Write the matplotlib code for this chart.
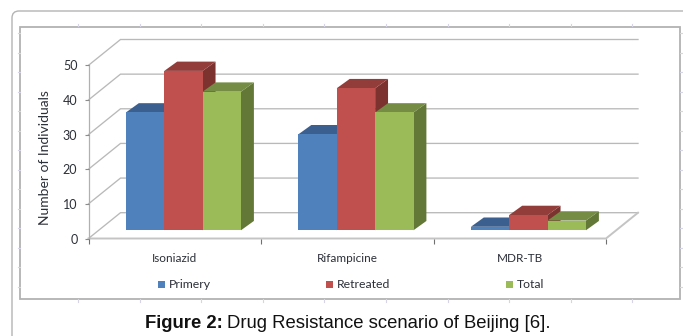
import matplotlib
matplotlib.use('Agg')
import matplotlib.pyplot as plt
from matplotlib.patches import FancyBboxPatch, Rectangle
import numpy as np

W, H = 683, 336

# Datos
categories = ['Isoniazid', 'Rifampicine', 'MDR-TB']
primery = [34, 27.7, 1]
retreated = [46, 41, 4.4]
total = [40, 34, 2.8]
y_ticks = [0, 10, 20, 30, 40, 50]

series = [('Primery', primery, '#4F81BD', '#3B5F8E', '#375A85'),
          ('Retreated', retreated, '#C0504D', '#923D3A', '#7C3330'),
          ('Total', total, '#9BBB59', '#748C43', '#637837')]


def px(x, y):
    # pixel -> fraccion de figura
    return x / W, 1 - y / H


plt.rcParams['font.family'] = ['Lato', 'DejaVu Sans']
fig = plt.figure(figsize=(W / 100, H / 100), dpi=100, facecolor='white')

# Fondo: tarjeta redondeada y recuadro del grafico
bg = fig.add_axes([0, 0, 1, 1])
bg.set_xlim(0, W)
bg.set_ylim(H, 0)
bg.axis('off')
bg.add_patch(FancyBboxPatch((12, 11), 720, 400, boxstyle='round,pad=0,rounding_size=7',
                            fc='white', ec='#b4b4b4', lw=1.0))
bg.add_patch(Rectangle((20, 26.5), 660, 272, fc='white', ec='#b2b2b2', lw=1.3))

# Marcas tenues alrededor del recuadro
for mx in [78, 139.5, 201, 262.5, 324, 386, 447.5, 509, 570.5, 632]:
    bg.plot([mx, mx], [24, 26], color='#d5d5e6', lw=0.8)
    bg.plot([mx, mx], [299, 301.5], color='#d5d5e6', lw=0.8)
for my in [33, 52.5, 72, 91.5, 111, 130.5, 150, 169.5, 189, 208.5, 228, 247.5, 267, 286.5]:
    bg.plot([18, 20], [my, my], color='#d5d5e6', lw=0.8)
    bg.plot([680, 682], [my, my], color='#d5d5e6', lw=0.8)

# Ejes principales: x en categorias, y en numero de individuos
x0, x1 = 88.5, 606
y0, y50 = 238.5, 65.3
l, b = px(x0, y0)
ax = fig.add_axes([l, b, (x1 - x0) / W, (y0 - y50) / H])
ax.set_xlim(0, 3)
ax.set_ylim(0, 50)
ax.patch.set_alpha(0)
for s in ax.spines.values():
    s.set_visible(False)

# Desplazamiento de la profundidad en unidades de datos
depth_x = 32 / ((x1 - x0) / 3)
depth_y = 25.8 / ((y0 - y50) / 50)


def oblique(x, v, d):
    return x + d * depth_x, v + d * depth_y


grid_c = '#b9b9b9'
for v in y_ticks:
    xa, ya = oblique(0, v, 0)
    xb, yb = oblique(0, v, 1)
    xc, yc = oblique(3, v, 1)
    ax.plot([xa, xb, xc], [ya, yb, yc], color=grid_c, lw=0.95, clip_on=False, zorder=1,
            solid_joinstyle='miter')

# Suelo y eje vertical
xr, yr = oblique(3, 0, 1)
ax.plot([0, 3, xr], [0, 0, yr], color='#c4c4c4', lw=1.4, clip_on=False, zorder=1)
ax.plot([0, 0], [0, 50], color='#b0b0b0', lw=0.9, clip_on=False, zorder=1)

# Barras 3D
bar_w = 0.2224
start = 0.1575
d_front, d_back = 0.32, 0.68
slant = 1.12
for i in range(len(categories)):
    for j, (name, vals, c_front, c_top, c_side) in enumerate(series):
        v = vals[i]
        left = i + start + j * bar_w
        right = left + bar_w
        base = oblique(0, 0, d_front)[1]
        fx0, _ = oblique(left, 0, d_front)
        fx1, _ = oblique(right, 0, d_front)
        shift = (d_back - d_front) * depth_x * slant
        bx0, bx1 = fx0 + shift, fx1 + shift
        rise = (d_back - d_front) * depth_y
        z = 3 + i * 3 + j
        ax.fill([fx1, bx1, bx1, fx1], [base, base + rise, base + rise + v, base + v],
                color=c_side, lw=0, clip_on=False, zorder=z)
        ax.fill([fx0, bx0, bx1, fx1], [base + v, base + v + rise, base + v + rise, base + v],
                color=c_top, lw=0, clip_on=False, zorder=z)
        ax.fill([fx0, fx1, fx1, fx0], [base, base, base + v, base + v],
                color=c_front, lw=0, clip_on=False, zorder=z + 0.1)

# Ticks y etiquetas
ax.set_yticks(y_ticks)
ax.set_xticks([0, 1, 2, 3])
ax.set_xticklabels([])
ax.tick_params(axis='y', length=3, width=0.8, color='#8c8c8c', labelsize=9, labelcolor='#2b2f38', pad=5)
ax.tick_params(axis='x', length=3.5, width=0.8, color='#707070')
for i, name in enumerate(categories):
    ax.text(i + 0.5, -5.9, name, ha='center', va='center', fontsize=8.5, color='#2b2f38', clip_on=False)
ax.set_ylabel('Number of Individuals', fontsize=10, color='#2b2f38', labelpad=8.5, y=0.468)

# Leyenda
legend_pos = [(158, 169), (326, 337), (506, 517)]
for (name, vals, c_front, _, _), (sx, tx) in zip(series, legend_pos):
    bg.add_patch(Rectangle((sx, 280.5), 7, 7, fc=c_front, ec='none'))
    bg.text(tx, 284.5, name, ha='left', va='center', fontsize=8.8, color='#2b2f38')

# Pie de figura
cap1 = bg.text(145, 323, 'Figure 2:', ha='left', va='center', fontsize=13.35,
               family='Liberation Sans', fontweight='bold', color='#111111')
fig.canvas.draw()
ext = cap1.get_window_extent()
bg.text(ext.x1 + 4.5, 323, 'Drug Resistance scenario of Beijing [6].', ha='left', va='center',
        fontsize=13.35, family='Liberation Sans', color='#111111')

fig.savefig('out.png', dpi=100)
